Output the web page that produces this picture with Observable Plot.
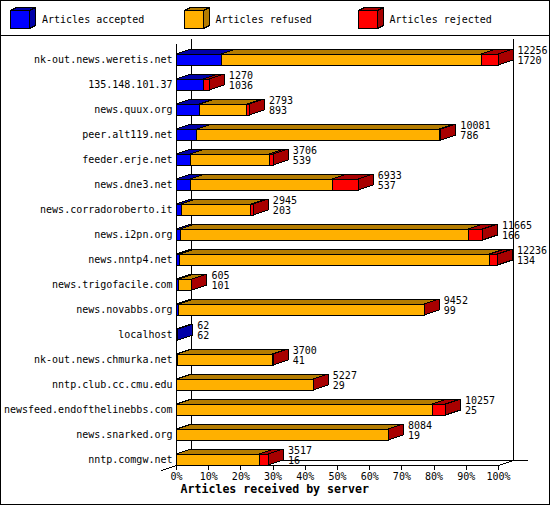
<!DOCTYPE html>
<html>
<head>
<meta charset="utf-8">
<script src="https://cdn.jsdelivr.net/npm/d3@7"></script>
<script src="https://cdn.jsdelivr.net/npm/@observablehq/plot@0.6"></script>
<style>
html, body { margin: 0; padding: 0; background: #fff; }
#wrap { position: relative; width: 550px; height: 505px; overflow: hidden; font-family: "DejaVu Sans Mono", monospace; background: #fff; }
#border { position: absolute; left: 0; top: 0; width: 550px; height: 505px; box-sizing: border-box; border: 1px solid #000; pointer-events: none; z-index: 5; }
#legend { position: absolute; left: 0; top: 0; width: 550px; height: 36px; box-sizing: border-box; border-bottom: 1px solid #000; }
.cube { position: absolute; top: 7px; }
.ltext { position: absolute; top: 14px; font-size: 10px; line-height: 12px; color: #000; white-space: pre; }
#chart { position: absolute; left: 0; top: 36px; }
#chart svg { shape-rendering: crispEdges; }
</style>
</head>
<body>
<div id="wrap">
  <div id="legend"></div>
  <div id="chart"></div>
  <div id="border"></div>
</div>
<script>
// ---- data ----
const servers = [
  "nk-out.news.weretis.net", "135.148.101.37", "news.quux.org", "peer.alt119.net",
  "feeder.erje.net", "news.dne3.net", "news.corradoroberto.it", "news.i2pn.org",
  "news.nntp4.net", "news.trigofacile.com", "news.novabbs.org", "localhost",
  "nk-out.news.chmurka.net", "nntp.club.cc.cmu.edu", "newsfeed.endofthelinebbs.com",
  "news.snarked.org", "nntp.comgw.net"
];
const offered  = [12256, 1270, 2793, 10081, 3706, 6933, 2945, 11665, 12236, 605, 9452, 62, 3700, 5227, 10257, 8084, 3517];
const accepted = [1720, 1036, 893, 786, 539, 537, 203, 166, 134, 101, 99, 62, 41, 29, 25, 19, 16];
const refused  = [9896, 0, 1800, 9245, 3017, 5406, 2647, 10959, 11802, 504, 9353, null, 3614, 5198, 9722, 8065, 3146];
const rejected = [640, 234, 100, 50, 150, 990, 95, 540, 300, 0, 0, null, 45, 0, 510, 0, 355];
const seriesNames = ["Articles accepted", "Articles refused", "Articles rejected"];
const frontColors = ["#0000ff", "#ffb000", "#ff0000"];
const shadeColors = ["#0000a8", "#b47c00", "#a80000"];
const tickValues = [0, 10, 20, 30, 40, 50, 60, 70, 80, 90, 100];
const axisTitle = "Articles received by server";

// ---- geometry (styles) ----
const W = 550, H = 468, mL = 176, mR = 52, mB = 39;
const plotW = W - mL - mR;
const rowPx = 25, firstRowPx = 23.5;
const depthX = 15, depthY = 5, halfFacePx = 5.5;
const n = servers.length;
const xMin = tickValues[0], xMax = tickValues[tickValues.length - 1];
const ddx = depthX / plotW * (xMax - xMin);
const ddy = depthY / rowPx;
const hh = halfFacePx / rowPx;

const maxOffered = d3.max(offered);
const pct = v => v / maxOffered * 100;

// ---- segments ----
const series = [accepted, refused, rejected];
const segs = series.map(() => []);
servers.forEach((name, i) => {
  let s = 0;
  series.forEach((vals, k) => {
    const v = vals[i];
    if (v == null) return;
    const e = s + v;
    segs[k].push({i, x1: pct(s), x2: pct(e)});
    s = e;
  });
});

const barMarks = [];
segs.forEach((sg, k) => {
  barMarks.push(
    Plot.rect(sg, {x1: "x1", x2: "x2", y1: d => d.i - hh, y2: d => d.i + hh, fill: frontColors[k], stroke: "black", strokeWidth: 1}),
    Plot.areaX(sg.flatMap(d => [
      {i: d.i, y: d.i - hh, a: d.x1, b: d.x2},
      {i: d.i, y: d.i - hh - ddy, a: d.x1 + ddx, b: d.x2 + ddx}
    ]), {x1: "a", x2: "b", y: "y", z: "i", fill: shadeColors[k], stroke: "black", strokeWidth: 1}),
    Plot.areaY(sg.flatMap(d => [
      {i: d.i, x: d.x2, a: d.i - hh, b: d.i + hh},
      {i: d.i, x: d.x2 + ddx, a: d.i - hh - ddy, b: d.i + hh - ddy}
    ]), {x: "x", y1: "a", y2: "b", z: "i", fill: shadeColors[k], stroke: "black", strokeWidth: 1})
  );
});

const topFront = -0.62, topBack = topFront - ddy;
const floorFront = n - 1 + hh, floorBack = floorFront - ddy;
const rows = servers.map((name, i) => ({i, name, total: offered[i], acc: accepted[i]}));

const chart = Plot.plot({
  width: W, height: H,
  marginLeft: mL, marginRight: mR, marginTop: 8, marginBottom: mB,
  style: {fontFamily: "'DejaVu Sans Mono', monospace", fontSize: "10px", background: "white", color: "black", overflow: "visible"},
  x: {domain: [xMin, xMax], ticks: tickValues, tickFormat: d => d + "%", tickSize: 5, tickPadding: 2, line: true, label: null},
  y: {domain: [0, n - 1], range: [firstRowPx, firstRowPx + rowPx * (n - 1)], axis: null},
  marks: [
    Plot.ruleY([floorBack], {x1: xMin + ddx, x2: xMax + 2 * ddx, stroke: "black"}),
    Plot.ruleX([xMin + ddx, xMax + ddx], {y1: topBack, y2: floorBack, stroke: "black"}),
    Plot.link([0], {x1: xMin - ddx, y1: floorFront + ddy, x2: xMin + ddx, y2: floorBack, stroke: "black"}),
    Plot.link([0], {x1: xMax, y1: floorFront, x2: xMax + ddx, y2: floorBack, stroke: "black"}),
    Plot.ruleX([xMin], {y1: topFront, y2: floorFront, stroke: "black"}),
    ...barMarks,
    Plot.text(rows, {x: xMin, y: "i", text: "name", textAnchor: "end", dx: -4, fill: "black"}),
    Plot.text(rows, {x: d => pct(d.total) + ddx, y: "i", text: d => String(d.total), textAnchor: "start", dx: 4, dy: -9.5, fill: "black"}),
    Plot.text(rows, {x: d => pct(d.total) + ddx, y: "i", text: d => String(d.acc), textAnchor: "start", dx: 4, dy: 0.5, fill: "black"}),
    Plot.text([axisTitle], {frameAnchor: "bottom-left", text: d => d, textAnchor: "start", dx: 4, dy: 27, fontWeight: "bold", fontSize: 11.6, fill: "black"})
  ]
});
document.getElementById("chart").appendChild(chart);

// ---- legend ----
const legend = document.getElementById("legend");
const legendX = [10, 183.5, 357.5];
seriesNames.forEach((name, k) => {
  const ns = "http://www.w3.org/2000/svg";
  const svg = document.createElementNS(ns, "svg");
  svg.setAttribute("width", 28); svg.setAttribute("height", 23);
  svg.setAttribute("class", "cube");
  svg.style.left = legendX[k] + "px";
  svg.style.shapeRendering = "crispEdges";
  const poly = (pts, fill) => {
    const p = document.createElementNS(ns, "polygon");
    p.setAttribute("points", pts);
    p.setAttribute("fill", fill);
    p.setAttribute("stroke", "black");
    svg.appendChild(p);
  };
  poly("0.5,3.5 19.5,3.5 25.5,0.5 6.5,0.5", shadeColors[k]);
  poly("19.5,3.5 25.5,0.5 25.5,18.5 19.5,21.5", shadeColors[k]);
  poly("0.5,3.5 19.5,3.5 19.5,21.5 0.5,21.5", frontColors[k]);
  legend.appendChild(svg);
  const t = document.createElement("div");
  t.className = "ltext";
  t.style.left = (legendX[k] + 32) + "px";
  t.textContent = name;
  legend.appendChild(t);
});
</script>
</body>
</html>
